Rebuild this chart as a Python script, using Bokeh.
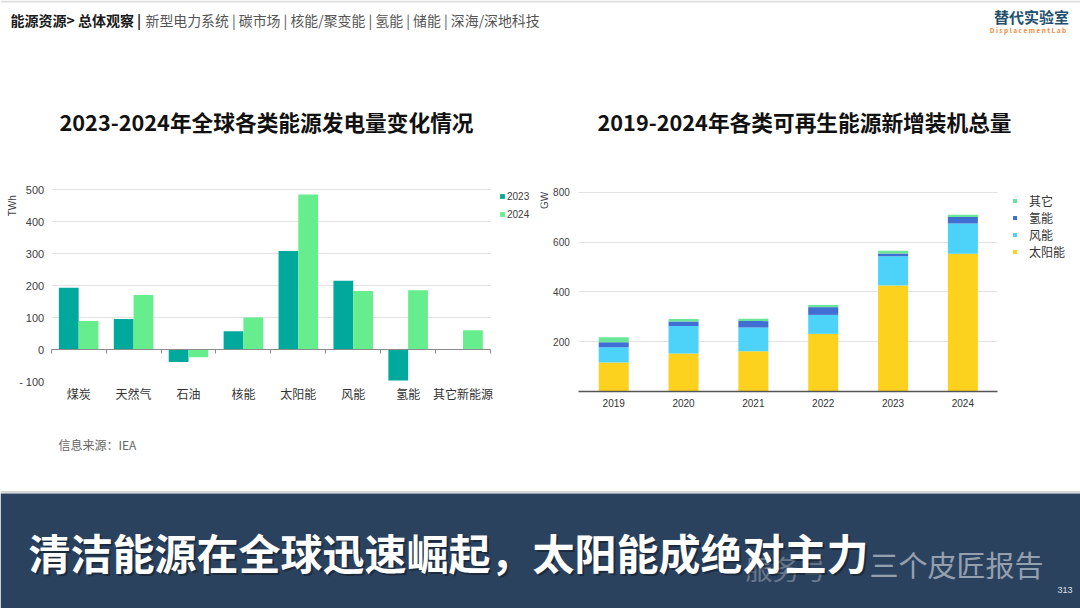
import numpy as np
from bokeh.plotting import figure
from bokeh.models import (Range1d, LinearAxis, FixedTicker, Grid, Legend, LegendItem,
                          Label, ColumnDataSource)
from bokeh.layouts import column, row
from bokeh.core.properties import value
from bokeh.embed import file_html
from bokeh.resources import INLINE

CJK = "Noto Sans CJK SC"
LAT = "Liberation Sans"

# ---- page texts ----
NAV_BOLD = "能源资源> 总体观察 |"
NAV_REST = "新型电力系统 | 碳市场 | 核能/聚变能 | 氢能 | 储能 | 深海/深地科技"
LOGO_CN = "替代实验室"
LOGO_EN = "D i s p l a c e m e n t   L a b"
TITLE_LEFT = "2023-2024年全球各类能源发电量变化情况"
TITLE_RIGHT = "2019-2024年各类可再生能源新增装机总量"
SOURCE_NOTE = "信息来源：IEA"
HEADLINE = "清洁能源在全球迅速崛起，太阳能成绝对主力"
MARK_MAIN = "三个皮匠报告"
MARK_SUB = "服务号"
PAGE_NO = "313"

# ---- generation change by source (TWh) ----
sources = ["煤炭", "天然气", "石油", "核能", "太阳能", "风能", "氢能", "其它新能源"]
gen_2023 = [194, 96, -38, 58, 309, 216, -96, 0]
gen_2024 = [90, 171, -23, 101, 485, 184, 186, 61]
twh_ticks = [-100, 0, 100, 200, 300, 400, 500]
twh_labels = {-100: "- 100"}

# ---- new renewable capacity (GW) ----
years = ["2019", "2020", "2021", "2022", "2023", "2024"]
solar = [117, 153, 162, 232, 426, 553]
wind = [61, 110, 95, 76, 117, 121]
hydro = [20, 18, 26, 31, 11, 26]
other = [20, 11, 10, 9, 11, 10]
stack_names = ["太阳能", "风能", "氢能", "其它"]
gw_ticks = [200, 400, 600, 800]

C23, C24 = "#00A99C", "#66EE8E"
STACK_COLORS = ["#FDD21F", "#4DD3FA", "#3F6FD2", "#6AE699"]
ZERO_LINE = "#8a8a8a"

# chart panel geometry: each chart figure is 540 x 280 px, its frame fills it
PANEL_W, PANEL_H = 540, 280
L_X0, L_X1 = 50.7, 490.0       # left chart: first / last category boundary (px)
R_X0, R_X1 = 38.3, 457.3       # right chart: first / last category boundary (px)
L_ZERO, L_PX = 199.3, 0.32     # left chart: px of value 0 from top, px per TWh
R_ZERO, R_PX = 241.2, 0.2494   # right chart: px of value 0 from top, px per GW


def canvas(w, h):
    f = figure(width=w, height=h, x_range=Range1d(0, w), y_range=Range1d(h, 0),
               x_axis_type=None, y_axis_type=None, output_backend="svg",
               toolbar_location=None, min_border=0)
    f.outline_line_color = None
    f.background_fill_color = "white"
    f.border_fill_color = "white"
    return f


def chart(n_cat, x0_px, x1_px, zero_px, px_per):
    unit = (x1_px - x0_px) / n_cat
    f = figure(frame_width=PANEL_W, frame_height=PANEL_H,
               x_range=Range1d(-x0_px / unit, (PANEL_W - x0_px) / unit),
               y_range=Range1d(-(PANEL_H - zero_px) / px_per, zero_px / px_per),
               x_axis_type=None, y_axis_type=None, output_backend="svg",
               toolbar_location=None, min_border=0)
    f.outline_line_color = None
    return f


def txt(f, x, y, s, size, color, bold=False, font=CJK, align="left", alpha=1.0):
    f.text(x=[x], y=[y], text=[s], text_font=value(font), text_font_size=size,
           text_font_style="bold" if bold else "normal", text_color=color,
           text_align=align, text_baseline="middle", text_alpha=alpha)


def plain_axis(**kw):
    base = dict(major_tick_line_color=None, minor_tick_line_color=None,
                major_tick_in=0, major_tick_out=0)
    base.update(kw)
    return LinearAxis(**base)


# ---- header strip with navigation, logo and the two chart titles ----
hdr = canvas(1080, 150)
hdr.segment(x0=[0], y0=[1], x1=[1080], y1=[1], line_color="#dedede", line_width=2)
txt(hdr, 10, 19, NAV_BOLD, "14px", "#1a1a1a", bold=True)
txt(hdr, 145, 19, NAV_REST, "13.9px", "#555555")
txt(hdr, 1031, 16, LOGO_CN, "15px", "#23506e", bold=True, align="center")
txt(hdr, 1029, 29, LOGO_EN, "6.5px", "#f0893c", bold=True, align="center")
txt(hdr, 266, 121, TITLE_LEFT, "21.7px", "#111111", bold=True, align="center")
txt(hdr, 804, 121, TITLE_RIGHT, "21.7px", "#111111", bold=True, align="center")

# ---- left: clustered bars of generation change ----
n = len(sources)
centers = np.arange(n) + 0.5
left = chart(n, L_X0, L_X1, L_ZERO, L_PX)
left.add_layout(Grid(dimension=1, ticker=FixedTicker(ticks=[t for t in twh_ticks if t > 0]),
                     cross_bounds=(0, n), grid_line_color="#e3e3e3", grid_line_width=1))

src_l = ColumnDataSource(dict(x23=centers - 0.18, x24=centers + 0.18, y23=gen_2023, y24=gen_2024))
r23 = left.vbar(x="x23", width=0.36, top="y23", bottom=0, source=src_l, fill_color=C23, line_color=None)
r24 = left.vbar(x="x24", width=0.36, top="y24", bottom=0, source=src_l, fill_color=C24, line_color=None)

# zero baseline with short marks at the category boundaries, drawn over the bars
left.add_layout(Grid(dimension=1, ticker=FixedTicker(ticks=[0]), cross_bounds=(0, n),
                     grid_line_color=ZERO_LINE, grid_line_width=1.2, level="guide"))
left.add_layout(Grid(dimension=0, ticker=FixedTicker(ticks=list(range(n + 1))),
                     cross_bounds=(-4 / L_PX, 0), grid_line_color=ZERO_LINE,
                     grid_line_width=1, level="guide"))

left.add_layout(plain_axis(fixed_location=0, ticker=FixedTicker(ticks=twh_ticks),
                           major_label_overrides=twh_labels, axis_line_color=None,
                           major_label_text_font=LAT, major_label_text_font_size="11px",
                           major_label_text_color="#404040", major_label_standoff=7), "left")

left.add_layout(plain_axis(fixed_location=-100, ticker=FixedTicker(ticks=list(centers)),
                           major_label_overrides={float(c): s for c, s in zip(centers, sources)},
                           axis_line_color=None, major_label_text_font=CJK,
                           major_label_text_font_size="12px", major_label_text_color="#333333",
                           major_label_standoff=3), "below")

left.add_layout(Label(x=-0.71, y=450, text="TWh", angle=90, angle_units="deg",
                      text_align="center", text_baseline="middle", text_font=LAT,
                      text_font_size="10px", text_color="#404040"))

left.add_layout(Legend(items=[LegendItem(label="2023", renderers=[r23]),
                              LegendItem(label="2024", renderers=[r24])],
                       location=(499, 210), glyph_width=6, glyph_height=6, label_standoff=2,
                       label_height=12, spacing=6, padding=0, margin=0,
                       label_text_font=LAT, label_text_font_size="10px",
                       label_text_color="#404040", border_line_color=None,
                       background_fill_alpha=0))

# ---- right: stacked bars of new renewable capacity ----
m = len(years)
ycenters = np.arange(m) + 0.5
right = chart(m, R_X0, R_X1, R_ZERO, R_PX)
right.add_layout(Grid(dimension=1, ticker=FixedTicker(ticks=gw_ticks), cross_bounds=(0, m),
                      grid_line_color="#e3e3e3", grid_line_width=1))

src_r = ColumnDataSource(dict(x=ycenters, solar=solar, wind=wind, hydro=hydro, other=other))
stack_rs = right.vbar_stack(["solar", "wind", "hydro", "other"], x="x", width=0.43,
                            fill_color=STACK_COLORS, line_color=None, source=src_r)

right.add_layout(plain_axis(fixed_location=0, ticker=FixedTicker(ticks=gw_ticks),
                            axis_line_color=None, major_label_text_font=LAT,
                            major_label_text_font_size="10px", major_label_text_color="#404040",
                            major_label_standoff=9), "left")

right.add_layout(plain_axis(fixed_location=0, bounds=(0, m), ticker=FixedTicker(ticks=list(ycenters)),
                            major_label_overrides={float(c): s for c, s in zip(ycenters, years)},
                            axis_line_color="#555555", axis_line_width=1.5,
                            major_label_text_font=LAT, major_label_text_font_size="10px",
                            major_label_text_color="#333333", major_label_standoff=7), "below")

right.add_layout(Label(x=-0.49, y=767, text="GW", angle=90, angle_units="deg",
                       text_align="center", text_baseline="middle", text_font=LAT,
                       text_font_size="10px", text_color="#404040"))

right.add_layout(Legend(items=[LegendItem(label=nm, renderers=[r]) for nm, r in
                               reversed(list(zip(stack_names, stack_rs)))],
                        location=(472, 170), glyph_width=5, glyph_height=5, label_standoff=12,
                        label_height=12, spacing=0, padding=0, margin=0,
                        label_text_font=CJK, label_text_font_size="12px",
                        label_text_color="#333333", border_line_color=None,
                        background_fill_alpha=0))

# ---- footer: source note and headline band ----
ftr = canvas(1080, 178)
txt(ftr, 58, 14, SOURCE_NOTE, "12px", "#666666")
ftr.segment(x0=[0], y0=[61.5], x1=[1080], y1=[61.5], line_color="#d6d6d6", line_width=2)
ftr.quad(left=[0], right=[1080], top=[63], bottom=[178], fill_color="#2B425F", line_color=None)
txt(ftr, 745, 138, MARK_SUB, "27px", "#ffffff", alpha=0.3)
txt(ftr, 30, 123, HEADLINE, "42px", "#000000", bold=True, alpha=0.35)
txt(ftr, 28, 121, HEADLINE, "42px", "#ffffff", bold=True)
txt(ftr, 869, 133, MARK_MAIN, "29px", "#ffffff", alpha=0.5)
txt(ftr, 1057, 159, PAGE_NO, "9px", "#ffffff", font=LAT, alpha=0.85)

p = column(hdr, row(left, right), ftr)

open("out.html", "w").write(file_html(p, INLINE))
